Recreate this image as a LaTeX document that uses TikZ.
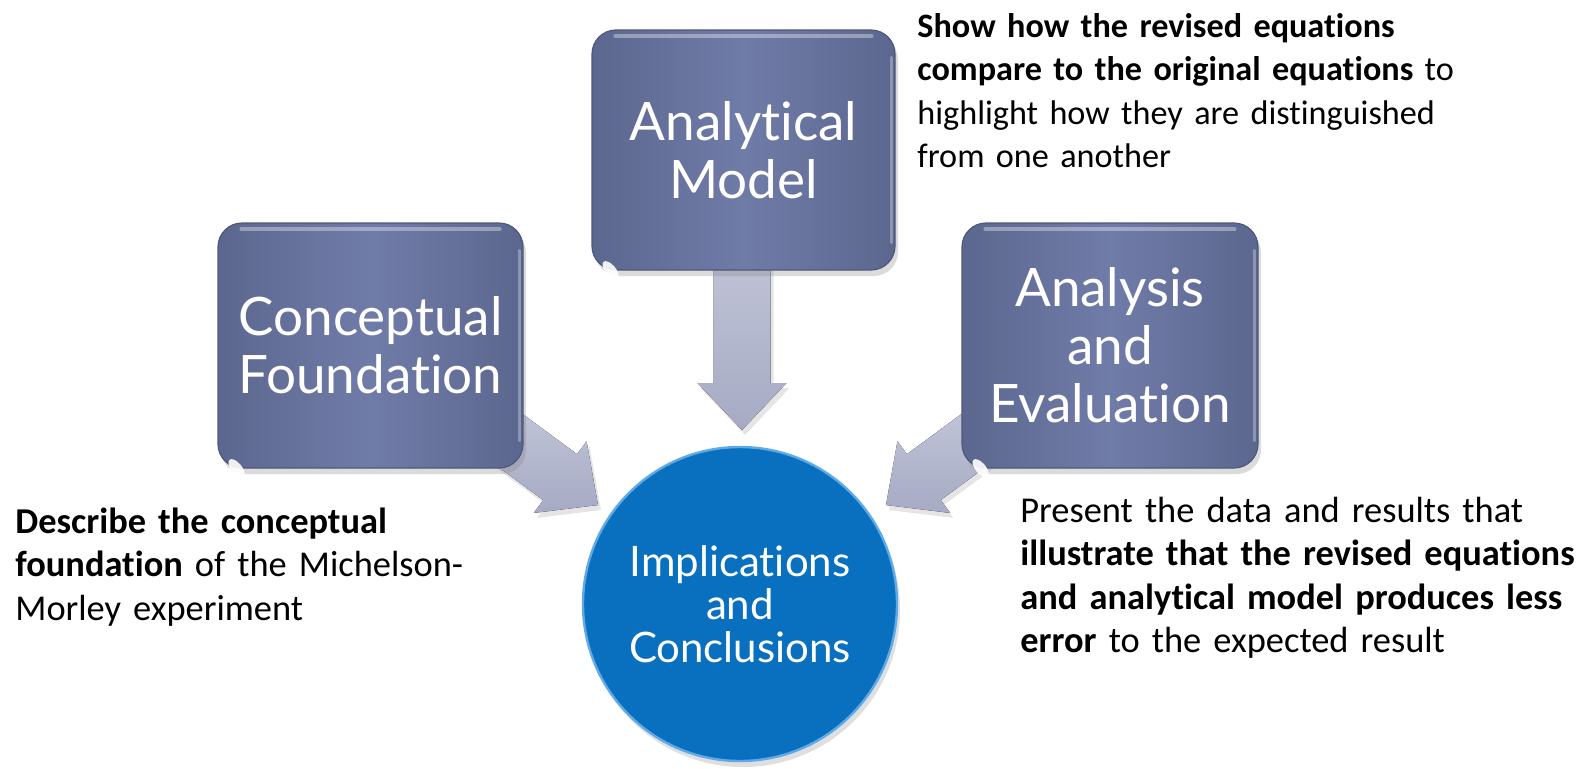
\documentclass[tikz,border=0pt]{standalone}
\usepackage{fontspec}
\setmainfont[RawFeature={-liga;-clig;-calt;-dlig}]{Carlito}
\newfontfamily\boxfont[RawFeature={-liga;-clig;-calt;-dlig}]{Lato}
\usetikzlibrary{calc,shadows}
\definecolor{boxmid}{HTML}{707CA8}
\definecolor{boxedge}{HTML}{5C678F}
\definecolor{circfill}{HTML}{0870BF}
\definecolor{circrim}{HTML}{5FA9E6}
\definecolor{arrowlight}{HTML}{C8CBDD}
\definecolor{arrowdark}{HTML}{A6AAC3}
\newcommand\fatarrow[2]{%
  \coordinate (#2-h) at ($(#2)!23.5pt!(#1)$);
  \fill[arrowbody]
    ($(#1)!14.25pt!-90:(#2)$) --
    ($(#2-h)!14.25pt!-90:(#2)$) --
    ($(#2-h)!22.25pt!-90:(#2)$) --
    (#2) --
    ($(#2-h)!22.25pt!90:(#2)$) --
    ($(#2-h)!14.25pt!90:(#2)$) --
    ($(#1)!14.25pt!90:(#2)$) -- cycle;
}
\newcommand\gloss[1]{%
  \draw[white, opacity=0.35, line width=2pt, line cap=round]
    ($(#1.north west)+(24,7)$) -- ($(#1.north east)+(-24,7)$);
  \draw[white, opacity=0.3, line width=1.5pt, line cap=round]
    ($(#1.north east)+(-4,28)$) -- ($(#1.south east)+(-4,-28)$);
  \fill[white, opacity=0.9, rotate around={-50:($(#1.south west)+(12,-15)$)}]
    ($(#1.south west)+(12,-15)$) ellipse [x radius=5.5pt, y radius=2.6pt];
}
\begin{document}
\begin{tikzpicture}[x=0.5pt,y=-0.5pt,
  stepbox/.style={rectangle, rounded corners=12pt, inner sep=0pt,
    left color=boxedge, right color=boxedge, middle color=boxmid,
    draw=boxedge!85!black, line width=0.6pt, text=white,
    font=\boxfont\fontsize{26.5}{29}\selectfont, align=center,
    drop shadow={shadow xshift=1.5pt, shadow yshift=-3pt, opacity=0.28}},
  endcircle/.style={circle, minimum size=157pt, inner sep=0pt,
    fill=circfill, draw=circrim, line width=1.2pt, text=white,
    font=\boxfont\fontsize{21}{21.5}\selectfont, align=center,
    drop shadow={shadow xshift=1.5pt, shadow yshift=-3pt, opacity=0.25}},
  arrowbody/.style={top color=arrowlight, bottom color=arrowdark,
    drop shadow={shadow xshift=1.5pt, shadow yshift=-2.5pt, opacity=0.2}},
  note/.style={anchor=base west, inner sep=0pt, align=left, text width=320pt,
    font=\fontsize{18.2}{21.75}\selectfont},
  topnote/.style={note, font=\fontsize{17.1}{21.75}\selectfont}
]
\fill[white] (0,0) rectangle (1585,768);
\useasboundingbox (0,0) rectangle (1585,768);

% arrow end points
\coordinate (tailL) at (461,404);
\coordinate (tipL) at (598,505);
\coordinate (tailM) at (742,200);
\coordinate (tipM) at (742,430);
\coordinate (tailR) at (1023,404);
\coordinate (tipR) at (886,505);

\fatarrow{tailL}{tipL}
\fatarrow{tailM}{tipM}
\fatarrow{tailR}{tipR}

\node[stepbox, minimum width=152.5pt, minimum height=122.5pt] (cf) at (370.5,345.5) {Conceptual\\Foundation};
\node[stepbox, minimum width=151.5pt, minimum height=120pt] (am) at (743.5,150) {Analytical\\Model};
\node[stepbox, minimum width=148pt, minimum height=122.5pt] (ae) at (1110,345.5) {Analysis\\and\\Evaluation};
\gloss{cf}
\gloss{am}
\gloss{ae}

\node[endcircle] (ic) at (740,604) {Implications\\and\\Conclusions};

\node[topnote] (tnote) at (917,37) {\textbf{Show how the revised equations}\\\textbf{compare to the original equations} to\\highlight how they are distinguished\\from one another};
\node[note] (lnote) at (15,533) {\textbf{Describe the conceptual}\\\textbf{foundation} of the Michelson-\\Morley experiment};
\node[note] (rnote) at (1020,522) {Present the data and results that\\\textbf{illustrate that the revised equations}\\\textbf{and analytical model produces less}\\\textbf{error} to the expected result};
\end{tikzpicture}
\end{document}
